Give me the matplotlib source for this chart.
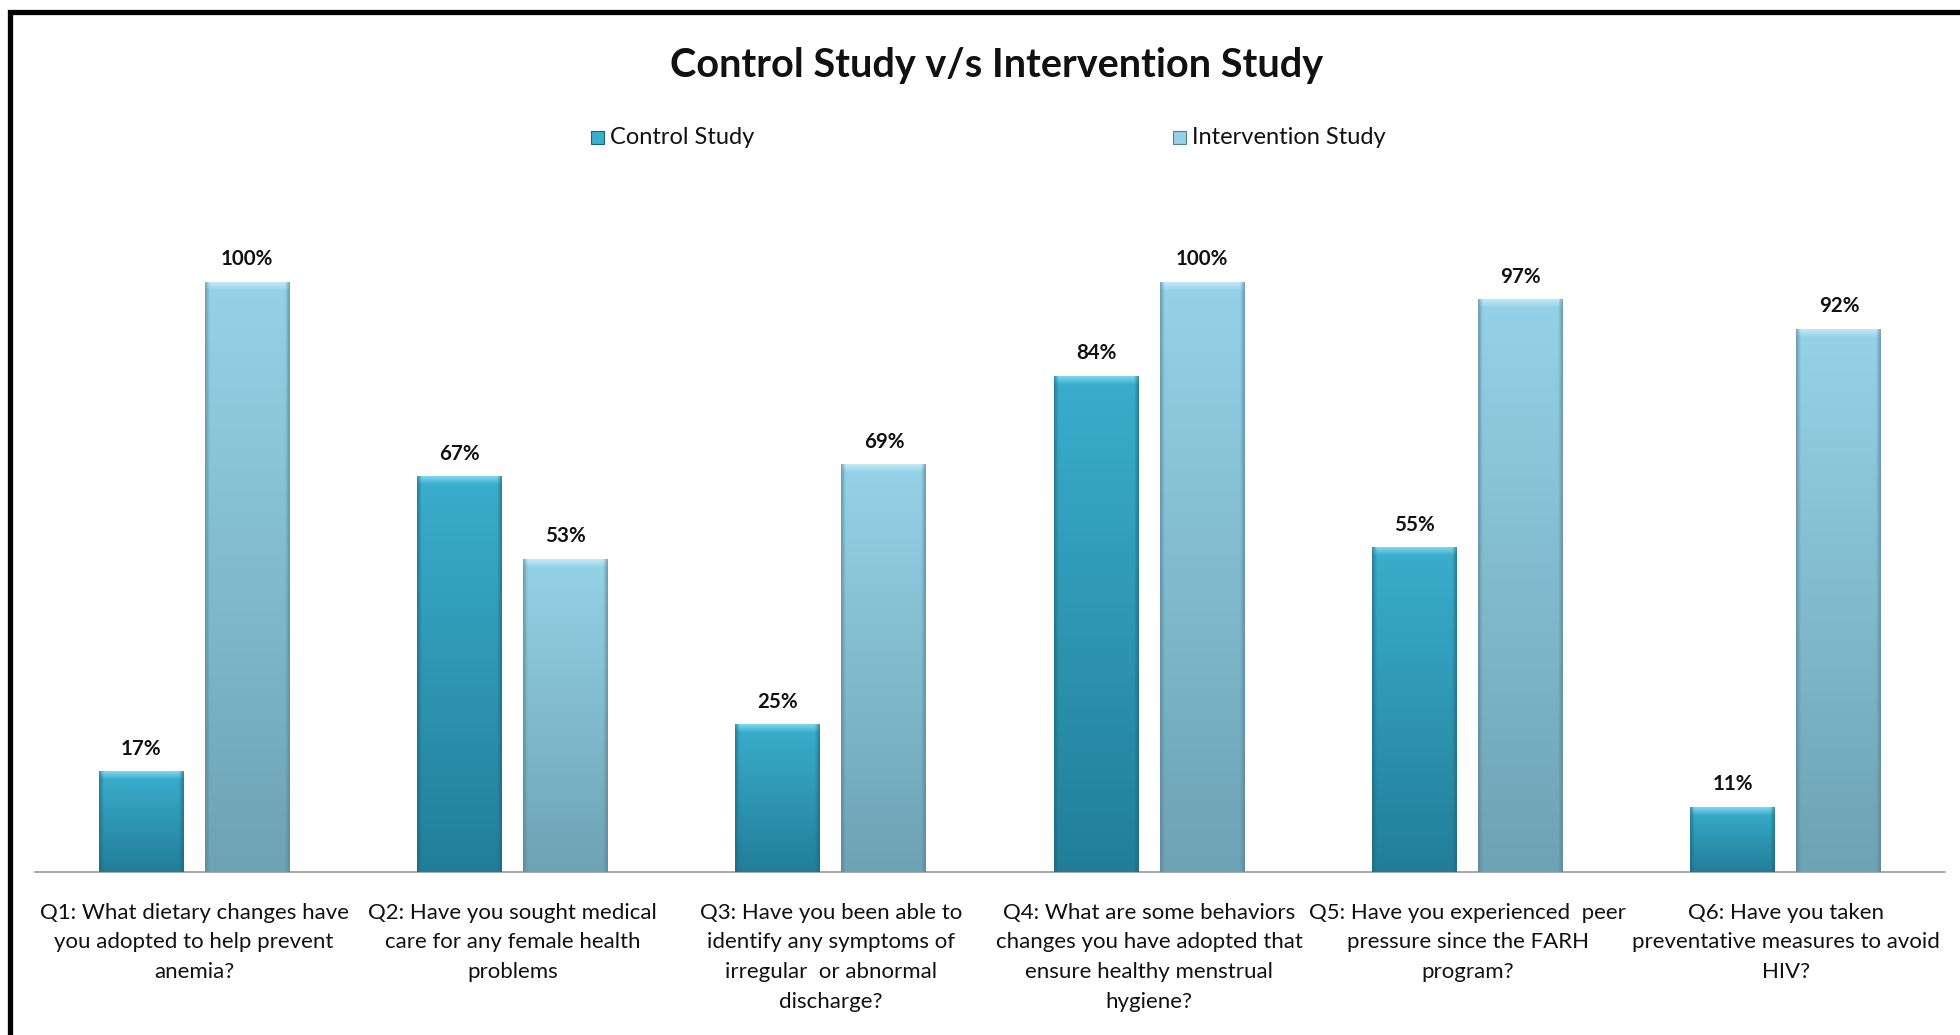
import matplotlib
matplotlib.use("Agg")
import matplotlib.pyplot as plt
import numpy as np
from matplotlib.patches import Rectangle
from matplotlib.colors import to_rgb

categories = [
    "Q1: What dietary changes have\nyou adopted to help prevent\nanemia?",
    "Q2: Have you sought medical\ncare for any female health\nproblems",
    "Q3: Have you been able to\nidentify any symptoms of\nirregular  or abnormal\ndischarge?",
    "Q4: What are some behaviors\nchanges you have adopted that\nensure healthy menstrual\nhygiene?",
    "Q5: Have you experienced  peer\npressure since the FARH\nprogram?",
    "Q6: Have you taken\npreventative measures to avoid\nHIV?",
]
control = [17, 67, 25, 84, 55, 11]
intervention = [100, 53, 69, 100, 97, 92]
series_names = ["Control Study", "Intervention Study"]
title = "Control Study v/s Intervention Study"

FONT = ["Lato", "DejaVu Sans"]
plt.rcParams["font.family"] = FONT

W, H, DPI = 1960, 1035, 100
fig = plt.figure(figsize=(W / DPI, H / DPI), dpi=DPI)
fig.patch.set_facecolor("white")

ax_left, ax_right = 35 / W, 1945 / W
ax_bottom = (H - 872) / H
ymax = 120
px_per_unit = 5.9
ax_h = ymax * px_per_unit / H
ax = fig.add_axes([ax_left, ax_bottom, ax_right - ax_left, ax_h])

x = np.arange(len(categories))
bw = 0.267
off = 0.167

styles = {
    "control": dict(top="#3aaecd", bottom="#227e98", bevel="#86def3", edge="#1b6477"),
    "interv": dict(top="#95d2e8", bottom="#6ea2b5", bevel="#c8eef9", edge="#557f8e"),
}


def gradient_bar(ax, xc, h, st):
    ax.bar(xc, h, width=bw, color=st["bottom"], zorder=2, linewidth=0)
    nrows = max(int(round(h * px_per_unit)), 2)
    ncols = 60
    top = np.array(to_rgb(st["top"]))
    bot = np.array(to_rgb(st["bottom"]))
    bev = np.array(to_rgb(st["bevel"]))
    edge = np.array(to_rgb(st["edge"]))
    t = np.linspace(0, 1, nrows)[:, None, None]
    img = top * (1 - t) + bot * t
    img = np.repeat(img, ncols, axis=1)
    nb = min(8, nrows)
    for r in range(nb):
        f = 1 - r / nb
        img[r, :, :] = img[r, :, :] * (1 - 0.85 * f) + bev * 0.85 * f
    cols = np.linspace(0, 1, ncols)
    d = np.clip(1 - np.minimum(cols, 1 - cols) / 0.05, 0, 1)[None, :, None]
    img = img * (1 - 0.6 * d) + edge * 0.6 * d
    ax.imshow(img, extent=[xc - bw / 2, xc + bw / 2, 0, h], aspect="auto",
              interpolation="bilinear", zorder=3, origin="upper")
    ax.text(xc, h + 2.2, f"{h}%", ha="center", va="bottom", fontsize=14.8,
            fontweight="bold", color="#111111", zorder=4)


for i in range(len(categories)):
    gradient_bar(ax, x[i] - off, control[i], styles["control"])
    gradient_bar(ax, x[i] + off, intervention[i], styles["interv"])

ax.set_xlim(-0.5, len(categories) - 0.5)
ax.set_ylim(0, ymax)
ax.set_aspect("auto")
for s in ["top", "right", "left"]:
    ax.spines[s].set_visible(False)
ax.spines["bottom"].set_color("#9a9a9a")
ax.spines["bottom"].set_linewidth(1.2)
ax.set_yticks([])
ax.set_xticks(x)
ax.set_xticklabels(categories, fontsize=16, color="#111111", linespacing=1.62,
                   va="top")
ax.tick_params(axis="x", length=0, pad=22)

fig.text(997 / W, 1 - 65 / H, title, ha="center", va="center", fontsize=28.5,
         fontweight="bold", color="#111111")

# legend
leg_y = 1 - 138 / H
for xs, name, st in [(597, series_names[0], styles["control"]),
                     (1179, series_names[1], styles["interv"])]:
    fig.patches.append(Rectangle((xs / W - 6 / W, leg_y - 6 / H), 13 / W, 13 / H,
                                 transform=fig.transFigure, facecolor=st["top"],
                                 edgecolor=st["edge"], linewidth=0.8))
    fig.text((xs + 13) / W, leg_y, name, ha="left", va="center", fontsize=17,
             color="#111111")

# outer frame (cropped on right and bottom)
fig.patches.append(Rectangle((10 / W, -0.1), 1.2, 1 - 12 / H + 0.1,
                             transform=fig.transFigure, fill=False,
                             edgecolor="black", linewidth=3.8, clip_on=False))

fig.savefig("out.png", dpi=DPI, facecolor="white")
